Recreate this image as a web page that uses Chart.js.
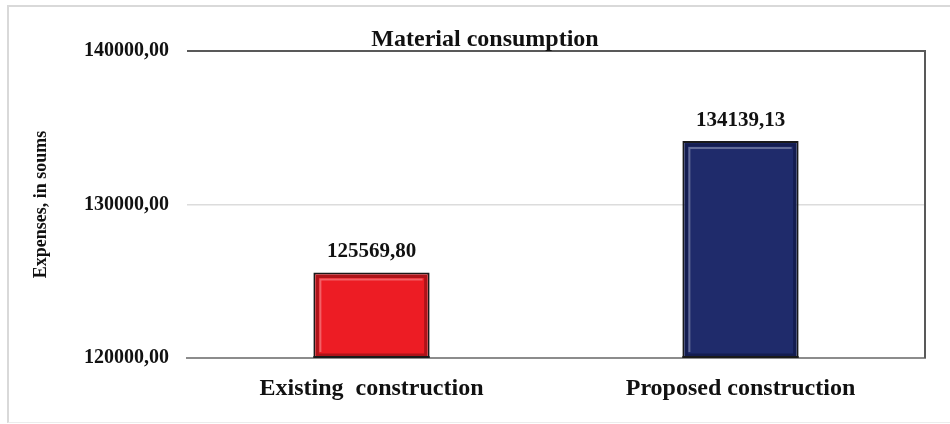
<!DOCTYPE html>
<html>
<head>
<meta charset="utf-8">
<script src="https://cdn.jsdelivr.net/npm/chart.js@4.4.1/dist/chart.umd.min.js"></script>
<style>
  html, body { margin: 0; padding: 0; background: #fff; }
  .wrap { position: relative; width: 950px; height: 424px; }
  .frame {
    position: absolute; left: 7px; top: 5px; right: -4px; bottom: 1px;
    border-left: 2px solid #d9d9d9; border-top: 2px solid #d9d9d9; border-bottom: 1px solid #ececec;
    pointer-events: none;
  }
</style>
</head>
<body>
<div class="wrap">
  <canvas id="chart" width="950" height="424"></canvas>
  <div class="frame"></div>
</div>
<script>
// chart data
const categories = ['Existing  construction', 'Proposed construction'];
const expenses = [125569.80, 134139.13];
const barColors = ['#ED1C24', '#1F2B6B'];
const bevelColors = ['#7a0c10', '#0b123a'];
const yTicks = [120000, 130000, 140000];
const chartTitle = 'Material consumption';
const yTitle = 'Expenses, in soums';

const serif = '"Liberation Serif", "Times New Roman", serif';
const fmt = v => v.toFixed(2).replace('.', ',');

// bevel, top + right plot border, title, value labels
const decor = {
    id: 'decor',
    afterDatasetsDraw(chart) {
        const ctx = chart.ctx;
        const area = chart.chartArea;
        const meta = chart.getDatasetMeta(0);
        ctx.save();
        meta.data.forEach((bar, i) => {
            const l = bar.x - bar.width / 2, r = bar.x + bar.width / 2;
            const t = bar.y, b = Math.min(bar.base, area.bottom);
            ctx.lineWidth = 3;
            ctx.strokeStyle = bevelColors[i];
            ctx.globalAlpha = 0.55;
            ctx.strokeRect(l + 4, t + 4, r - l - 8, b - t - 7);
            ctx.globalAlpha = 0.3;
            ctx.lineWidth = 2;
            ctx.strokeStyle = '#ffffff';
            ctx.beginPath();
            ctx.moveTo(l + 7, b - 6);
            ctx.lineTo(l + 7, t + 7);
            ctx.lineTo(r - 7, t + 7);
            ctx.stroke();
            ctx.globalAlpha = 1;
            // bottom edge on the axis
            ctx.strokeStyle = '#1a1a1a';
            ctx.lineWidth = 2;
            ctx.beginPath();
            ctx.moveTo(l, b - 1);
            ctx.lineTo(r, b - 1);
            ctx.stroke();
        });
        ctx.strokeStyle = '#595959';
        ctx.lineWidth = 2;
        ctx.beginPath();
        ctx.moveTo(area.left, area.top);
        ctx.lineTo(area.right, area.top);
        ctx.lineTo(area.right, area.bottom);
        ctx.stroke();
        ctx.fillStyle = '#111';
        ctx.font = 'bold 21px ' + serif;
        ctx.textAlign = 'center';
        ctx.textBaseline = 'bottom';
        meta.data.forEach((bar, i) => {
            ctx.fillText(fmt(expenses[i]), bar.x, bar.y - 10);
        });
        ctx.font = 'bold 24px ' + serif;
        ctx.textBaseline = 'middle';
        ctx.fillText(chartTitle, chart.width / 2 + 10, 40);
        ctx.restore();
    }
};

new Chart(document.getElementById('chart'), {
    type: 'bar',
    data: {
        labels: categories,
        datasets: [{
            data: expenses,
            backgroundColor: barColors,
            borderColor: '#1a1a1a',
            borderWidth: 2,
            borderSkipped: false,
            barPercentage: 0.63,
            categoryPercentage: 0.5
        }]
    },
    options: {
        responsive: false,
        animation: false,
        layout: { padding: { left: 0, top: 51, right: 25, bottom: 0 } },
        plugins: {
            legend: { display: false },
            tooltip: { enabled: false },
            title: { display: false }
        },
        scales: {
            x: {
                afterFit: s => { s.height = 66; },
                grid: { display: false, drawTicks: false },
                border: { display: true, color: '#8c8c8c', width: 2 },
                ticks: {
                    color: '#111',
                    padding: 16,
                    maxRotation: 0,
                    font: { family: serif, size: 24, weight: 'bold' }
                }
            },
            y: {
                min: yTicks[0],
                max: yTicks[yTicks.length - 1],
                afterFit: s => { s.width = 187; },
                afterBuildTicks: s => { s.ticks = yTicks.map(v => ({ value: v })); },
                border: { display: false },
                grid: {
                    drawTicks: false,
                    color: ctx => ctx.tick && ctx.tick.value === yTicks[1] ? '#dcdcdc' : 'rgba(0,0,0,0)',
                    lineWidth: 1.5
                },
                ticks: {
                    color: '#111',
                    padding: 18,
                    callback: v => fmt(v),
                    font: { family: serif, size: 20, weight: 'bold' }
                },
                title: {
                    display: true,
                    text: yTitle,
                    color: '#111',
                    padding: { top: 31, bottom: 0 },
                    font: { family: serif, size: 18, weight: 'bold' }
                }
            }
        }
    },
    plugins: [decor]
});
</script>
</body>
</html>
